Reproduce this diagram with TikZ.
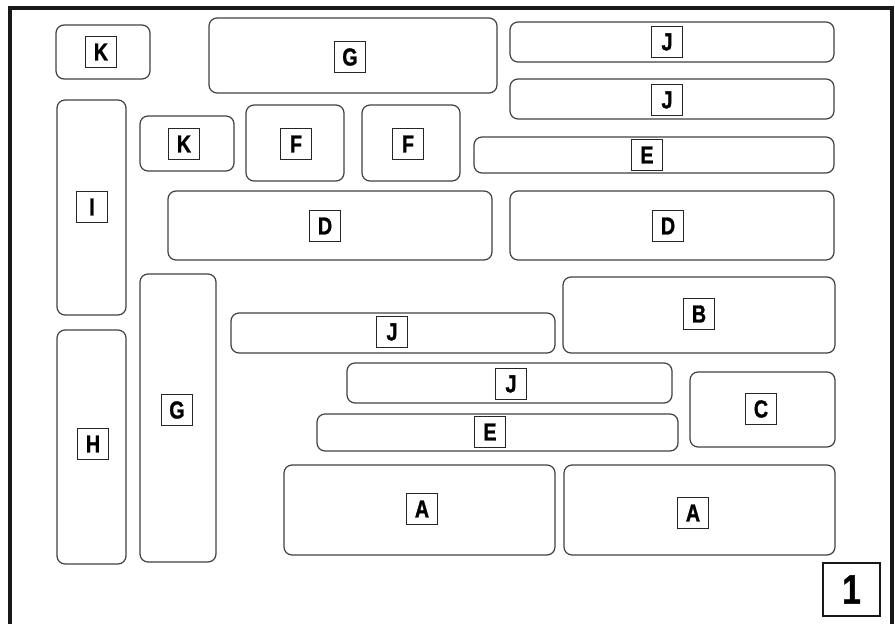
\documentclass[tikz,border=0pt]{standalone}
\usepackage{fontspec}
\newfontfamily\tagfont[FakeStretch=0.8,FakeBold=1.2]{Liberation Sans Bold}
\usetikzlibrary{fit}
\begin{document}
\begin{tikzpicture}[x=0.75pt,y=-0.75pt,
  part/.style={draw=black!75,line width=0.9pt,rounded corners=6pt,inner sep=0pt},
  tag/.style={draw=black!85,line width=0.9pt,minimum size=23.5pt,inner sep=0pt,font=\tagfont\fontsize{18.5}{18.5}\selectfont},
  frame/.style={draw=black!90,line width=2.3pt}]
\useasboundingbox (0,0) rectangle (895,624);
\draw[frame] (10,640) -- (10,8) -- (892,8) -- (892,640);
% upper part
\node[part,fit={(56,25) (150,79)}] (k1) {};
\node[tag] (k1t) at (101,52) {K};
\node[part,fit={(209,18) (497,93)}] (g1) {};
\node[tag] (g1t) at (350,57) {G};
\node[part,fit={(510,22) (834,62)}] (j1) {};
\node[tag] (j1t) at (667,42) {J};
\node[part,fit={(510,79) (834,119)}] (j2) {};
\node[tag] (j2t) at (667,100) {J};
\node[part,fit={(57,100) (126,315)}] (i) {};
\node[tag] (it) at (92,207) {I};
\node[part,fit={(140,116) (234,171)}] (k2) {};
\node[tag] (k2t) at (184,144) {K};
\node[part,fit={(246,105) (344,181)}] (f1) {};
\node[tag] (f1t) at (296,144) {F};
\node[part,fit={(362,105) (460,181)}] (f2) {};
\node[tag] (f2t) at (408,144) {F};
\node[part,fit={(474,137) (834,173)}] (e1) {};
\node[tag] (e1t) at (647,155) {E};
\node[part,fit={(168,191) (492,260)}] (d1) {};
\node[tag] (d1t) at (325,226) {D};
\node[part,fit={(510,191) (834,260)}] (d2) {};
\node[tag] (d2t) at (668,226) {D};
% lower part
\node[part,fit={(140,274) (216,562)}] (g2) {};
\node[tag] (g2t) at (177,410) {G};
\node[part,fit={(57,330) (126,564)}] (h) {};
\node[tag] (ht) at (93,444) {H};
\node[part,fit={(231,313) (555,353)}] (j3) {};
\node[tag] (j3t) at (392,332) {J};
\node[part,fit={(563,277) (835,353)}] (b) {};
\node[tag] (bt) at (699,314) {B};
\node[part,fit={(347,363) (672,403)}] (j4) {};
\node[tag] (j4t) at (511,384) {J};
\node[part,fit={(690,372) (835,447)}] (c) {};
\node[tag] (ct) at (761,409) {C};
\node[part,fit={(317,414) (678,451)}] (e2) {};
\node[tag] (e2t) at (490,432) {E};
\node[part,fit={(284,465) (555,555)}] (a1) {};
\node[tag] (a1t) at (422,509) {A};
\node[part,fit={(564,465) (835,555)}] (a2) {};
\node[tag] (a2t) at (693,513) {A};
% sheet number
\node[draw=black!90,line width=2.2pt,inner sep=0pt,fit={(823,563) (880,616)}] (num) {};
\node[inner sep=0pt,font=\tagfont\fontsize{31}{31}\selectfont] (numt) at (num.center) {1};
\end{tikzpicture}
\end{document}
